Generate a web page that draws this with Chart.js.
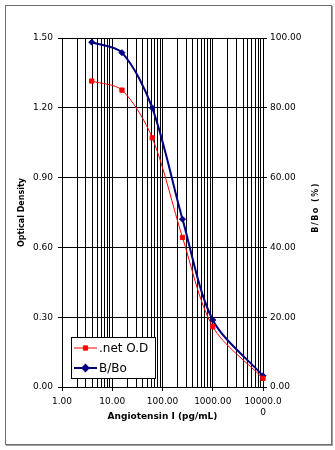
<!DOCTYPE html>
<html lang="en">
<head>
  <meta charset="UTF-8">
  <title>Angiotensin I standard curve</title>
  <script src="https://cdn.jsdelivr.net/npm/chart.js"></script>
  <style>
    body { margin: 0; background: #fff; }
    #wrap { width: 335px; height: 450px; position: relative; }
  </style>
</head>
<body>
  <div id="wrap"><canvas id="curve"></canvas></div>

  <script>
    const concentrations = [3.9, 15.6, 62.5, 250, 1000, 10000];
    const netOD = [1.315, 1.276, 1.071, 0.643, 0.259, 0.037];
    const bBo = [98.8, 95.8, 80.0, 48.1, 19.2, 3.2];
    const xTickValues = [1, 10, 100, 1000, 10000];
    const xTickLabels = ['1.00', '10.00', '100.00', '1000.00', ['10000.0', '0']];

    const FONT = 'DejaVu Sans, Verdana, sans-serif';

    // log grid: every 1..9 step inside each decade
    function logGridTicks() {
      const out = [];
      for (let d = 0; d < xTickValues.length - 1; d++) {
        for (let m = 1; m < 10; m++) out.push({ value: xTickValues[d] * m, major: m === 1 });
      }
      out.push({ value: xTickValues[xTickValues.length - 1], major: true });
      return out;
    }

    const frame = {
      id: 'frame',
      afterDraw(chart) {
        const ctx = chart.ctx;
        ctx.save();
        ctx.strokeStyle = '#6e6e6e';
        ctx.lineWidth = 1;
        ctx.strokeRect(5.5, 5.5, 326, 439);
        ctx.strokeStyle = '#a0a0a0';
        ctx.beginPath();
        ctx.moveTo(332.5, 6); ctx.lineTo(332.5, 446);
        ctx.moveTo(6, 445.5); ctx.lineTo(333, 445.5);
        ctx.stroke();

        // right axis title, reads bottom to top
        const y1 = chart.scales.y1;
        ctx.translate(316, (chart.chartArea.top + chart.chartArea.bottom) / 2 - 5);
        ctx.rotate(-Math.PI / 2);
        ctx.font = 'bold 8px ' + FONT;
        ctx.fillStyle = '#000';
        ctx.textAlign = 'center';
        ctx.textBaseline = 'middle';
        ctx.letterSpacing = '1.5px';
        ctx.fillText(y1.options.title.text, 0, 0);
        ctx.restore();

        // legend box inside the plot
        ctx.save();
        ctx.fillStyle = '#fff';
        ctx.fillRect(71.5, 337.5, 84, 41);
        ctx.strokeStyle = '#000';
        ctx.strokeRect(71.5, 337.5, 84, 41);
        chart.data.datasets.forEach((ds, i) => {
          const y = 348 + i * 20;
          ctx.strokeStyle = ds.borderColor;
          ctx.lineWidth = ds.borderWidth;
          ctx.beginPath();
          ctx.moveTo(74, y); ctx.lineTo(97, y);
          ctx.stroke();
          ctx.fillStyle = ds.pointBackgroundColor;
          Chart.helpers.drawPoint(ctx, {
            pointStyle: ds.pointStyle, radius: ds.pointRadius, borderWidth: 1, rotation: 0
          }, 85.5, y);
          ctx.fillStyle = '#000';
          ctx.font = '12px ' + FONT;
          ctx.textAlign = 'left';
          ctx.textBaseline = 'middle';
          ctx.fillText(ds.label, 99, y + 1);
        });
        ctx.restore();
      }
    };

    new Chart(document.getElementById('curve'), {
      type: 'line',
      data: {
        datasets: [{
          label: '.net O.D',
          data: concentrations.map((c, i) => ({ x: c, y: netOD[i] })),
          yAxisID: 'y',
          borderColor: '#ff0000',
          backgroundColor: '#ff0000',
          pointBackgroundColor: '#ff0000',
          pointBorderColor: '#ff0000',
          borderWidth: 1,
          pointStyle: 'rect',
          pointRadius: 3,
          pointBorderWidth: 1,
          tension: 0.3,
          clip: false
        }, {
          label: 'B/Bo',
          data: concentrations.map((c, i) => ({ x: c, y: bBo[i] })),
          yAxisID: 'y1',
          borderColor: '#000080',
          backgroundColor: '#000080',
          pointBackgroundColor: '#000080',
          pointBorderColor: '#000080',
          borderWidth: 2,
          pointStyle: 'rectRot',
          pointRadius: 3,
          pointBorderWidth: 1,
          tension: 0.3,
          clip: false
        }]
      },
      options: {
        responsive: true,
        maintainAspectRatio: false,
        animation: false,
        layout: { padding: { top: 38, left: 0, right: 0, bottom: 0 } },
        plugins: { legend: { display: false }, tooltip: { enabled: false } },
        scales: {
          x: {
            type: 'logarithmic',
            min: 1,
            max: 10000,
            afterBuildTicks: (scale) => { scale.ticks = logGridTicks(); },
            afterFit: (scale) => { scale.height = 63; },
            grid: {
              color: '#000',
              lineWidth: 1,
              tickLength: 4,
              tickColor: (c) => (c.tick && xTickValues.includes(c.tick.value)) ? '#000' : 'rgba(0,0,0,0)'
            },
            border: { color: '#000' },
            ticks: {
              autoSkip: false,
              maxRotation: 0,
              padding: 5,
              color: '#000',
              font: { family: FONT, size: 9 },
              callback: (v) => {
                const k = xTickValues.indexOf(v);
                return k >= 0 ? xTickLabels[k] : '';
              }
            },
            title: {
              display: true,
              text: 'Angiotensin I (pg/mL)',
              color: '#000',
              font: { family: FONT, size: 9, weight: 'bold' },
              padding: { top: 4, bottom: 28 }
            }
          },
          y: {
            position: 'left',
            min: 0,
            max: 1.5,
            afterFit: (scale) => { scale.width = 62; },
            grid: { color: '#000', lineWidth: 1, tickLength: 4 },
            border: { color: '#000' },
            ticks: {
              stepSize: 0.3,
              padding: 5,
              color: '#000',
              font: { family: FONT, size: 9 },
              callback: (v) => Number(v).toFixed(2)
            },
            title: {
              display: true,
              text: 'Optical Density',
              color: '#000',
              font: { family: FONT, size: 8, weight: 'bold' },
              padding: { top: 17, bottom: 0 }
            }
          },
          y1: {
            position: 'right',
            min: 0,
            max: 100,
            afterFit: (scale) => { scale.width = 72; },
            grid: { drawOnChartArea: false, color: '#000', tickLength: 4 },
            border: { color: '#000' },
            ticks: {
              stepSize: 20,
              padding: 3,
              color: '#000',
              font: { family: FONT, size: 9 },
              callback: (v) => Number(v).toFixed(2)
            },
            title: { display: false, text: 'B/Bo (%)' }
          }
        }
      },
      plugins: [frame]
    });
  </script>
</body>
</html>
